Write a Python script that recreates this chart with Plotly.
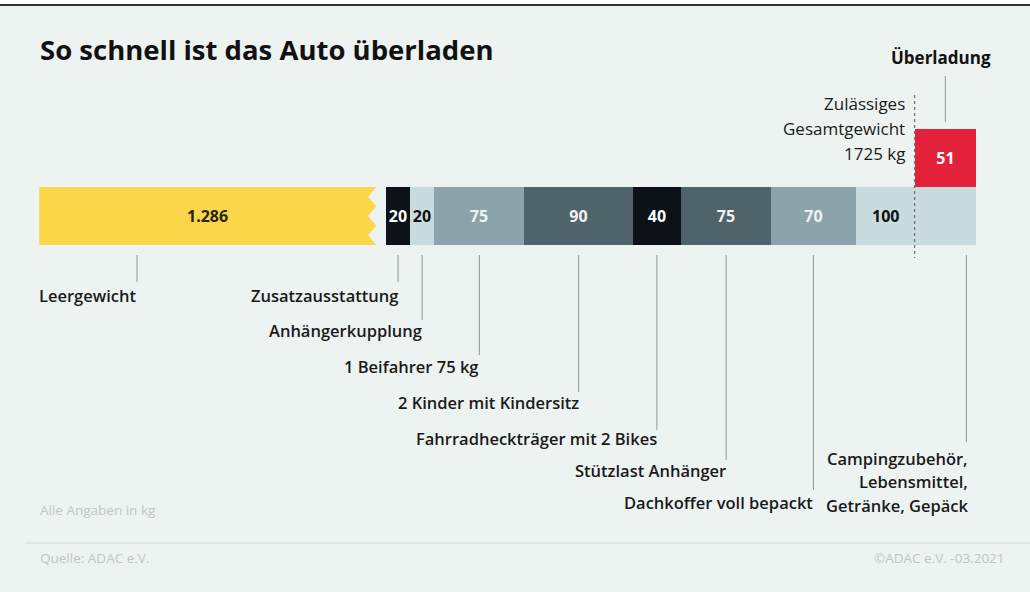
import plotly.graph_objects as go

# ---------------- data ----------------
TITLE = "So schnell ist das Auto überladen"
LEER_LABEL = "Leergewicht"
LEER_VALUE = 1286
LEER_TEXT = "1.286"
LIMIT = 1725
LIMIT_LINES = ["Zulässiges", "Gesamtgewicht", "1725 kg"]
OVER_LABEL = "Überladung"

items = ["Zusatzausstattung", "Anhängerkupplung", "1 Beifahrer 75 kg",
         "2 Kinder mit Kindersitz", "Fahrradheckträger mit 2 Bikes",
         "Stützlast Anhänger", "Dachkoffer voll bepackt",
         "Campingzubehör,<br>Lebensmittel,<br>Getränke, Gepäck"]
values = [20, 20, 75, 90, 40, 75, 70, 100]
NOTE = "Alle Angaben in kg"
SOURCE = "Quelle: ADAC e.V."
CREDIT = "©ADAC e.V. -03.2021"

# ---------------- style ----------------
W, H = 1030, 592
FONT = "Open Sans"
BG = "#edf3f1"
YELLOW = "#fbd648"
BLACK = "#0c1217"
LIGHT = "#c9dbde"
MID = "#8ba4ac"
DARK = "#4f636b"
RED = "#e3213a"
seg_colors = [BLACK, LIGHT, MID, DARK, BLACK, DARK, MID, LIGHT]
seg_text_colors = ["#ffffff", "#111111", "#eef3f4", "#eef3f4", "#ffffff",
                   "#eef3f4", "#eef3f4", "#111111"]

bases = []
acc = LEER_VALUE
for v in values:
    bases.append(acc)
    acc += v
TOTAL = acc
OVER = TOTAL - LIMIT

# x scale (kg) : broken axis, the empty weight is compressed
PX_START, PX_END = 386, 976
S = (PX_END - PX_START) / (TOTAL - LEER_VALUE)
X_MIN = LEER_VALUE - PX_START / S
X_MAX = TOTAL + (W - PX_END) / S
LEER_SHOWN = 288          # visible width of the compressed bar (kg units)
GAP = 8                   # break gap
ZIG = 7                   # zigzag depth

# y scale: one unit = bar height
UNIT = 58.0
Y_CENTER_PX = 216
def yv(py):
    return (Y_CENTER_PX - py) / UNIT

fig = go.Figure()

# compressed empty-weight bar with zigzag break edge
x0 = LEER_VALUE - LEER_SHOWN
xr = LEER_VALUE - GAP
teeth = 3
px_, py_ = [x0, x0], [-0.5, 0.5]
n = teeth * 2
for i in range(n + 1):
    yy = 0.5 - i / n
    px_.append(xr if i % 2 == 0 else xr - ZIG)
    py_.append(yy)
px_.append(x0)
py_.append(-0.5)
fig.add_trace(go.Scatter(x=px_, y=py_, fill="toself", fillcolor=YELLOW,
                         mode="lines", line=dict(width=0, color=YELLOW),
                         hoverinfo="skip", showlegend=False))
fig.add_annotation(x=(x0 + xr) / 2, y=0, text=LEER_TEXT, showarrow=False,
                   font=dict(family=FONT, size=16, color="#262414", weight=700))

NUM_SIZE = 16
# stacked segments
seg_text = [str(v) for v in values[:-1]] + [""]
fig.add_trace(go.Bar(
    y=[0] * len(values), x=values, base=bases, orientation="h", width=1,
    marker=dict(color=seg_colors, line=dict(width=0)),
    text=seg_text, textposition="inside", insidetextanchor="middle",
    textangle=0, constraintext="none",
    textfont=dict(family=FONT, size=NUM_SIZE, color=seg_text_colors,
                  weight=700),
    hoverinfo="skip", showlegend=False))
# last segment label sits below the permitted limit
fig.add_annotation(x=(bases[-1] + LIMIT) / 2, y=0, text=str(values[-1]),
                   showarrow=False,
                   font=dict(family=FONT, size=NUM_SIZE, color="#111111",
                             weight=700))

# overload bar
fig.add_trace(go.Bar(
    y=[1], x=[OVER], base=[LIMIT], orientation="h", width=1,
    marker=dict(color=RED, line=dict(width=0)),
    text=[str(OVER)], textposition="inside", insidetextanchor="middle",
    textangle=0, constraintext="none",
    textfont=dict(family=FONT, size=NUM_SIZE, color="#ffffff", weight=700),
    hoverinfo="skip", showlegend=False))

LINE_C = "#8d9598"
LABEL_SIZE = 16.5
label_font = dict(family=FONT, size=LABEL_SIZE, color="#1a1a1a", weight=600)

# leader lines & labels
label_py = [295, 330, 366, 402, 438, 470, 502, None]
line_end_py = [282, 320, 355, 392, 430, 460, 490, 442]
for i, (name, b, v) in enumerate(zip(items, bases, values)):
    if i == len(items) - 1:
        lx = b + v - 8
    else:
        lx = b + v / 2
    fig.add_shape(type="line", x0=lx, x1=lx, y0=yv(255), y1=yv(line_end_py[i]),
                  line=dict(color=LINE_C, width=1))
    if label_py[i] is not None:
        fig.add_annotation(x=lx, y=yv(label_py[i]), text=name, showarrow=False,
                           xanchor="right", yanchor="middle", xshift=2,
                           font=label_font)
    else:
        for k, part in enumerate(name.split("<br>")):
            fig.add_annotation(x=lx, y=yv(458 + k * 23.5), text=part,
                               showarrow=False, xanchor="right",
                               yanchor="middle", xshift=4, font=label_font)

# empty weight label
lx = x0 + 0.29 * (xr - x0)
fig.add_shape(type="line", x0=lx, x1=lx, y0=yv(255), y1=yv(282),
              line=dict(color=LINE_C, width=1))
fig.add_annotation(x=x0, y=yv(295), text=LEER_LABEL, showarrow=False,
                   xanchor="left", yanchor="middle", xshift=-2,
                   font=label_font)

# permitted limit
fig.add_shape(type="line", x0=LIMIT, x1=LIMIT, y0=yv(95), y1=yv(258),
              line=dict(color="#6f7476", width=1.3, dash="dot"))
for k, part in enumerate(LIMIT_LINES):
    fig.add_annotation(x=LIMIT, y=yv(103 + k * 25), text=part, showarrow=False,
                       xanchor="right", yanchor="middle", xshift=-8,
                       font=dict(family=FONT, size=17, color="#1a1a1a",
                                 weight=500))

# overload label
ox = LIMIT + OVER / 2
fig.add_shape(type="line", x0=ox, x1=ox, y0=yv(76), y1=yv(122),
              line=dict(color=LINE_C, width=1))
fig.add_annotation(x=ox, y=yv(57), text=OVER_LABEL, showarrow=False,
                   xanchor="center", yanchor="middle", xshift=-4,
                   font=dict(family=FONT, size=17, color="#111111", weight=700))

# title, notes, frame
fig.add_annotation(x=38 / W, y=1 - 50 / H, xref="paper", yref="paper",
                   text=TITLE, showarrow=False, xanchor="left",
                   yanchor="middle",
                   font=dict(family=FONT, size=27.5, color="#111111",
                             weight=700))
foot = dict(family=FONT, size=13.5, color="#bec6c6")
fig.add_annotation(x=38 / W, y=1 - 510 / H, xref="paper", yref="paper",
                   text=NOTE, showarrow=False, xanchor="left", yanchor="middle",
                   font=foot)
fig.add_annotation(x=38 / W, y=1 - 558 / H, xref="paper", yref="paper",
                   text=SOURCE, showarrow=False, xanchor="left",
                   yanchor="middle", font=foot)
fig.add_annotation(x=1007 / W, y=1 - 558 / H, xref="paper", yref="paper",
                   text=CREDIT, showarrow=False, xanchor="right",
                   yanchor="middle", font=foot)
fig.add_shape(type="line", xref="paper", yref="paper", x0=25 / W, x1=1,
              y0=1 - 543 / H, y1=1 - 543 / H,
              line=dict(color="#dfe6e5", width=2))
fig.add_shape(type="rect", xref="paper", yref="paper", x0=0, x1=1,
              y0=1 - 4 / H, y1=1, fillcolor="#ffffff", line=dict(width=0))
fig.add_shape(type="line", xref="paper", yref="paper", x0=0, x1=1,
              y0=1 - 5 / H, y1=1 - 5 / H, line=dict(color="#333333", width=2))

fig.update_layout(
    width=W, height=H, margin=dict(l=0, r=0, t=0, b=0),
    paper_bgcolor=BG, plot_bgcolor=BG, barmode="overlay", bargap=0,
    showlegend=False, hovermode=False,
    xaxis=dict(range=[X_MIN, X_MAX], visible=False, fixedrange=True),
    yaxis=dict(range=[yv(H), yv(0)], visible=False, fixedrange=True),
)

fig.write_html("out.html", config={"displayModeBar": False},
               post_script="document.body.style.margin='0';"
                           "document.body.style.overflow='hidden';")
